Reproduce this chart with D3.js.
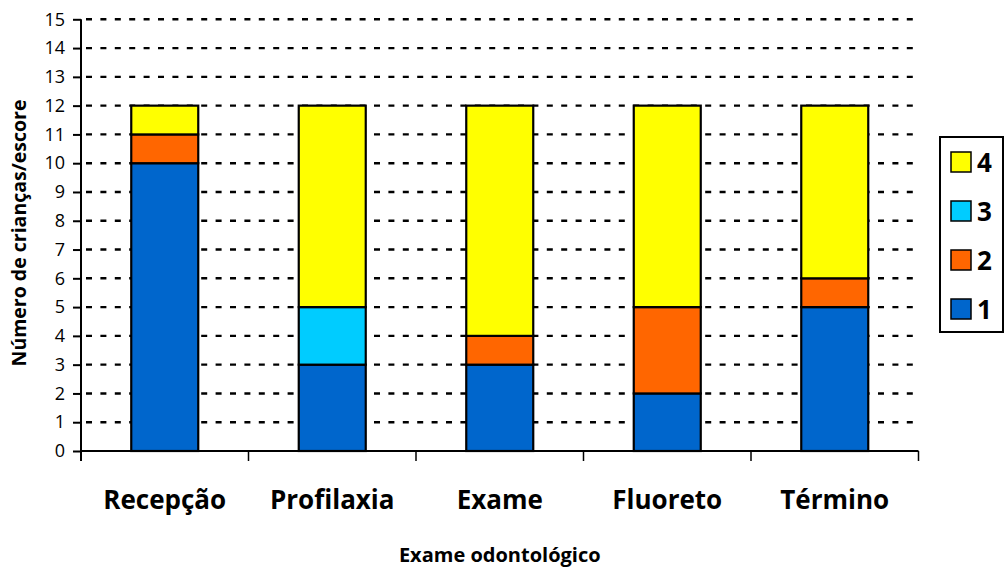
<!DOCTYPE html>
<html>
<head>
<meta charset="utf-8">
<script src="https://cdn.jsdelivr.net/npm/d3@7"></script>
<style>
  html, body { margin: 0; padding: 0; background: #fff; }
  svg { display: block; }
  text { font-family: "Open Sans", Lato, sans-serif; fill: #000; }
</style>
</head>
<body>
<svg id="chart" width="1005" height="571"></svg>
<script>
// Stages of the dental visit
const categories = ["Recepção", "Profilaxia", "Exame", "Fluoreto", "Término"];
// Number of children per behaviour score at each stage
const score1 = [10, 3, 3, 2, 5];
const score2 = [1, 0, 1, 3, 1];
const score3 = [0, 2, 0, 0, 0];
const score4 = [1, 7, 8, 7, 6];
const seriesKeys = ["1", "2", "3", "4"];
const seriesColors = ["#0066CC", "#FF6600", "#00CCFF", "#FFFF00"];
const yTicks = d3.range(0, 16);

const svg = d3.select("#chart");
const plotLeft = 81, plotRight = 918.5, plotTop = 19.3, plotBottom = 451;

const x = d3.scaleBand().domain(categories).range([plotLeft, plotRight]).paddingInner(0.6).paddingOuter(0.3);
const xBound = d3.scaleBand().domain(categories).range([plotLeft, plotRight]).padding(0);
const y = d3.scaleLinear().domain([0, 15]).range([plotBottom, plotTop]);

// Dashed horizontal gridlines
svg.append("g").selectAll("line").data(yTicks.filter(d => d > 0)).join("line")
  .attr("x1", plotLeft + 5).attr("x2", plotRight)
  .attr("y1", d => y(d)).attr("y2", d => y(d))
  .attr("stroke", "#000").attr("stroke-width", 2.4).attr("stroke-dasharray", "6,8.4");

// Stacked data
const rows = categories.map((c, i) => ({ cat: c, "1": score1[i], "2": score2[i], "3": score3[i], "4": score4[i] }));
const stacked = d3.stack().keys(seriesKeys)(rows);

svg.append("g").selectAll("g").data(stacked).join("g")
  .attr("fill", (d, i) => seriesColors[i])
  .selectAll("rect").data(d => d.filter(p => p[1] - p[0] > 0)).join("rect")
  .attr("x", d => x(d.data.cat))
  .attr("width", x.bandwidth())
  .attr("y", d => y(d[1]))
  .attr("height", d => y(d[0]) - y(d[1]))
  .attr("stroke", "#000").attr("stroke-width", 2.2);

// Y axis
const yAxis = svg.append("g").attr("transform", `translate(${plotLeft},0)`)
  .call(d3.axisLeft(y).tickValues(yTicks).tickFormat(d3.format("d")).tickSize(8).tickPadding(8));
yAxis.select(".domain").attr("d", `M0,${plotTop}V${plotBottom + 10}`).attr("stroke-width", 2);
yAxis.selectAll(".tick line").attr("stroke-width", 2);
yAxis.selectAll(".tick text").style("font-size", "18px").style("font-family", "'Open Sans', sans-serif").attr("fill", "#000");

// X axis baseline and boundary ticks
svg.append("line").attr("x1", plotLeft).attr("x2", plotRight).attr("y1", plotBottom).attr("y2", plotBottom)
  .attr("stroke", "#000").attr("stroke-width", 2);
const bounds = categories.map(c => xBound(c)).concat([plotRight]);
svg.append("g").selectAll("line").data(bounds.slice(1)).join("line")
  .attr("x1", d => d).attr("x2", d => d).attr("y1", plotBottom).attr("y2", plotBottom + 10)
  .attr("stroke", "#000").attr("stroke-width", 1.5);

// Category labels
svg.append("g").selectAll("text").data(categories).join("text")
  .attr("x", d => x(d) + x.bandwidth() / 2).attr("y", 509)
  .attr("text-anchor", "middle").style("font-size", "26px").style("font-weight", "bold")
  .text(d => d);

// Axis titles
svg.append("text").attr("x", (plotLeft + plotRight) / 2).attr("y", 562).attr("text-anchor", "middle")
  .style("font-size", "20px").style("font-weight", "bold").text("Exame odontológico");
svg.append("text").attr("transform", `translate(26,233) rotate(-90)`).attr("text-anchor", "middle")
  .style("font-size", "19.5px").style("font-weight", "bold").text("Número de crianças/escore");

// Legend (top entry is score 4)
const lg = svg.append("g");
lg.append("rect").attr("x", 940).attr("y", 137).attr("width", 63).attr("height", 195)
  .attr("fill", "#fff").attr("stroke", "#000").attr("stroke-width", 2);
const legendOrder = [3, 2, 1, 0];
legendOrder.forEach((si, j) => {
  const yy = 152 + j * 49;
  lg.append("rect").attr("x", 951).attr("y", yy).attr("width", 20).attr("height", 20)
    .attr("fill", seriesColors[si]).attr("stroke", "#000").attr("stroke-width", 1.5);
  lg.append("text").attr("x", 977).attr("y", yy + 20)
    .style("font-size", "26px").style("font-weight", "bold").text(seriesKeys[si]);
});
</script>
</body>
</html>
